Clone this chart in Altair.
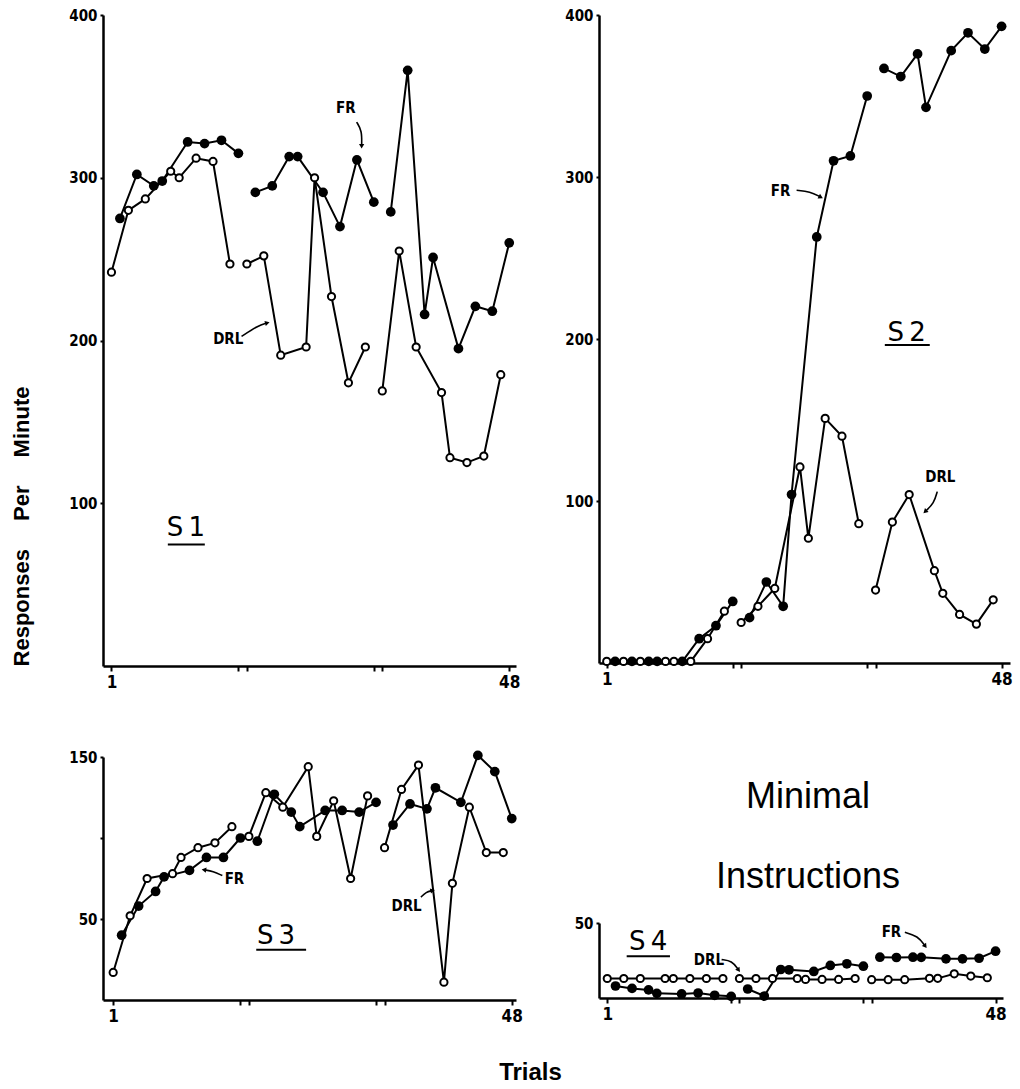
import altair as alt
import pandas as pd

# ---------------- data ----------------
# trial numbers of each schedule (same order in each 16-trial session)
FR_TRIALS = [2, 4, 6, 7, 10, 12, 14, 16, 18, 20, 22, 23, 26, 28, 30, 32,
             34, 36, 38, 39, 42, 44, 46, 48]
DRL_TRIALS = [1, 3, 5, 8, 9, 11, 13, 15, 17, 19, 21, 24, 25, 27, 29, 31,
              33, 35, 37, 40, 41, 43, 45, 47]

S1_FR = [275, 302, 295, 298, 322, 321, 323, 315, 291, 295, 313, 313, 291, 270, 311, 285,
         279, 366, 216, 251, 195, 221, 218, 260]
S1_DRL = [242, 280, 287, 304, 300, 312, 310, 247, 247, 252, 191, 196, 300, 227, 174, 196,
          169, 255, 196, 168, 128, 125, 129, 179]
S2_FR = [1, 1, 1, 1, 1, 15, 23, 38, 28, 50, 35, 104, 263, 310, 313, 350,
         367, 362, 376, 343, 378, 389, 379, 393]
S2_DRL = [1, 1, 1, 1, 1, 1, 15, 32, 25, 35, 46, 121, 77, 151, 140, 86,
          45, 87, 104, 57, 43, 30, 24, 39]
S3_FR = [40, 58, 67, 76, 80, 88, 88, 100, 98, 127, 116, 107, 117, 117, 116, 122,
         108, 121, 118, 131, 122, 151, 141, 112]
S3_DRL = [17, 52, 75, 78, 88, 94, 97, 107, 101, 128, 119, 144, 101, 123, 75, 126,
          94, 130, 145, 11, 72, 119, 91, 91]
S4_FR = [8, 6.4, 5.4, 3.1, 2.7, 3.3, 1.8, 1.1, 6, 1.3, 19, 18.8, 17.7, 21.7, 22.8, 21.2,
         27.2, 27, 27.2, 27.1, 26.1, 26.1, 26.5, 31.2]
S4_DRL = [13, 13, 13, 13, 13, 13, 13, 13, 13, 13, 13, 13, 12.4, 12.4, 12.4, 13,
          12.2, 12.2, 12.2, 13.1, 13.1, 16.1, 14.6, 13.5]

PANELS = ["S1", "S2", "S3", "S4"]
FR_VALUES = {"S1": S1_FR, "S2": S2_FR, "S3": S3_FR, "S4": S4_FR}
DRL_VALUES = {"S1": S1_DRL, "S2": S2_DRL, "S3": S3_DRL, "S4": S4_DRL}

# annotation labels (data coordinates)
LABEL_PANEL = ["S1", "S1", "S2", "S2", "S3", "S3", "S4", "S4"]
LABEL_TEXT = ["FR", "DRL", "FR", "DRL", "FR", "DRL", "DRL", "FR"]
LABEL_TRIAL = [28.7, 14.8, 21.7, 40.7, 15.3, 35.6, 13.3, 35.4]
LABEL_VALUE = [343, 201, 291.5, 115, 74.8, 58.3, 25.6, 43.8]

# arrows from labels
ARROW_TRIALS = [[29.97, 30.6, 30.56], [16.37, 18.33, 19.33], [23.6, 25.2, 26.4],
                [40.34, 39.95, 38.96], [13.87, 12.77, 11.79], [37.29, 37.91, 38.58],
                [14.84, 16.09, 16.85], [37.02, 38.59, 39.44]]
ARROW_VALUES = [[334.2, 328.9, 319.8], [202.5, 209.2, 210.7], [291.8, 291, 287.8],
                [105.8, 98.6, 93.8], [76.8, 79.5, 80.3], [63.5, 66.7, 67.5],
                [25.6, 24.8, 19.0], [43.8, 41.3, 34.9]]
ARROW_ANGLE = [180, 75, 118, 227, 279, 77, 144, 144]

# subject names with underline
NAME_TEXT = ["S1", "S2", "S3", "S4"]
NAME_TRIAL = [9.8, 36.7, 20.2, 5.96]
NAME_VALUE = [85, 204, 39.7, 37.2]
UNDER_T1 = [7.66, 34.1, 17.87, 3.35]
UNDER_T2 = [12.03, 39.45, 23.75, 8.59]
UNDER_V = [74.7, 196.3, 31.0, 27.9]

TITLE_LINES = ["Minimal", "Instructions"]

# ---------------- tables ----------------
rows = []
for p in PANELS:
    for t, v in zip(FR_TRIALS, FR_VALUES[p]):
        rows.append({"panel": p, "series": "FR", "trial": t, "value": v, "session": (t - 1) // 16})
    for t, v in zip(DRL_TRIALS, DRL_VALUES[p]):
        rows.append({"panel": p, "series": "DRL", "trial": t, "value": v, "session": (t - 1) // 16})
df = pd.DataFrame(rows)

lab_df = pd.DataFrame({"panel": LABEL_PANEL, "label": LABEL_TEXT,
                       "trial": LABEL_TRIAL, "value": LABEL_VALUE})
arr_rows, head_rows = [], []
for i, p in enumerate(LABEL_PANEL):
    for k, (t, v) in enumerate(zip(ARROW_TRIALS[i], ARROW_VALUES[i])):
        arr_rows.append({"panel": p, "id": i, "k": k, "trial": t, "value": v})
    head_rows.append({"panel": p, "trial": ARROW_TRIALS[i][-1], "value": ARROW_VALUES[i][-1],
                      "angle": ARROW_ANGLE[i]})
arr_df = pd.DataFrame(arr_rows)
head_df = pd.DataFrame(head_rows)
name_df = pd.DataFrame({"panel": PANELS,
                        "label": [s[0] + "\u2009" + s[1:] for s in NAME_TEXT],
                        "trial": NAME_TRIAL, "value": NAME_VALUE,
                        "trial2": UNDER_T1, "trial3": UNDER_T2, "uv": UNDER_V})

NARROW = "Liberation Sans Narrow, DejaVu Sans Condensed, Liberation Sans, sans-serif"
SANS = "Liberation Sans, Arial, sans-serif"
XTICKS = [1, 16, 17, 32, 33, 48]
XLABEL_EXPR = "datum.value == 1 || datum.value == 48 ? datum.label : ''"


def make_panel(p, width, height, xdom, ydom, yvals, ylabel_expr=None, yaxis_extra=None, xaxis_extra=None):
    xa = dict(values=XTICKS, labelExpr=XLABEL_EXPR, title=None)
    if xaxis_extra:
        xa.update(xaxis_extra)
    ya = dict(values=yvals, title=None)
    if ylabel_expr:
        ya["labelExpr"] = ylabel_expr
    if yaxis_extra:
        ya.update(yaxis_extra)
    xs = alt.Scale(domain=xdom, nice=False, zero=False)
    ys = alt.Scale(domain=ydom, nice=False, zero=False)
    x = alt.X("trial:Q", scale=xs, axis=alt.Axis(**xa))
    y = alt.Y("value:Q", scale=ys, axis=alt.Axis(**ya))

    pdf = df[df.panel == p]
    lines = alt.Chart(pdf).mark_line(color="black", strokeWidth=2).encode(
        x=x, y=y, detail=["series:N", "session:N"])
    closed = alt.Chart(pdf[pdf.series == "FR"]).mark_circle(
        size=95, color="black", opacity=1).encode(x=x, y=y)
    opened = alt.Chart(pdf[pdf.series == "DRL"]).mark_point(
        shape="circle", size=52, filled=True, fill="white", stroke="black",
        strokeWidth=2, opacity=1).encode(x=x, y=y)
    labels = alt.Chart(lab_df[lab_df.panel == p]).mark_text(
        font=NARROW, fontSize=15, fontWeight="bold", color="black").encode(
        x=x, y=y, text="label:N")
    arrows = alt.Chart(arr_df[arr_df.panel == p]).mark_line(
        color="black", strokeWidth=1.6, interpolate="basis").encode(
        x=x, y=y, detail="id:N", order="k:Q")
    heads = alt.Chart(head_df[head_df.panel == p]).mark_point(
        shape="triangle", filled=True, size=28, color="black", opacity=1).encode(
        x=x, y=y, angle=alt.Angle("angle:Q", scale=None))
    ndf = name_df[name_df.panel == p]
    name = alt.Chart(ndf).mark_text(
        font="DejaVu Sans", fontSize=26, color="black").encode(
        x=x, y=y, text="label:N")
    under = alt.Chart(ndf).mark_rule(color="black", strokeWidth=2).encode(
        x=alt.X("trial2:Q", scale=xs, axis=alt.Axis(**xa)),
        x2="trial3:Q",
        y=alt.Y("uv:Q", scale=ys, axis=alt.Axis(**ya)))
    return alt.layer(lines, arrows, heads, closed, opened, labels, name, under).properties(
        width=width, height=height)


s1 = make_panel("S1", 413, 651, [0, 48.8], [0, 400], [100, 200, 300, 400],
                yaxis_extra=dict(title="Responses\u2003 Per\u2003 Minute", titleX=-75, titleY=511,
                                 titleAngle=270, titleFont=SANS, titleFontSize=22,
                                 titleFontWeight="bold", titleAlign="center",
                                 titleBaseline="alphabetic"))
s2 = make_panel("S2", 411, 648, [0.08, 49], [0, 400], [100, 200, 300, 400])
s3 = make_panel("S3", 413, 243, [-0.2, 48.5], [0, 150], [50, 100, 150],
                ylabel_expr="datum.value == 100 ? '' : datum.label",
                xaxis_extra=dict(title="Trials", titleX=427, titleY=79, titleAngle=0,
                                 titleFont=SANS, titleFontSize=24, titleFontWeight="bold",
                                 titleAlign="center", titleBaseline="alphabetic"))
s4 = make_panel("S4", 404, 75, [0, 48.9], [0, 50], [50])

spacer = alt.Chart(pd.DataFrame({"line": TITLE_LINES})).mark_text(
    font=SANS, fontSize=36, color="black", dx=7).encode(
    y=alt.Y("line:N", sort=TITLE_LINES, axis=None,
            scale=alt.Scale(paddingInner=0, paddingOuter=0)),
    text="line:N").properties(width=404, height=160)

right_col = alt.vconcat(spacer, s4, spacing=6, bounds="flush")

chart = alt.concat(s1, s2, s3, right_col, columns=2, bounds="flush",
                   spacing={"row": 91, "column": 83}).properties(
    padding={"left": 10, "top": 8, "right": 5, "bottom": 5}
).configure_view(strokeWidth=0).configure_axis(
    domainColor="black", domainWidth=2.5, tickColor="black", tickWidth=2,
    labelColor="black", grid=False, labelFont=NARROW, labelFontWeight="bold",
    titleColor="black"
).configure_axisX(tickSize=5, labelFontSize=17, labelPadding=3
).configure_axisY(tickSize=3, labelFontSize=15, labelPadding=3)

chart.save("out.html", embed_options={"renderer": "svg", "actions": False})
